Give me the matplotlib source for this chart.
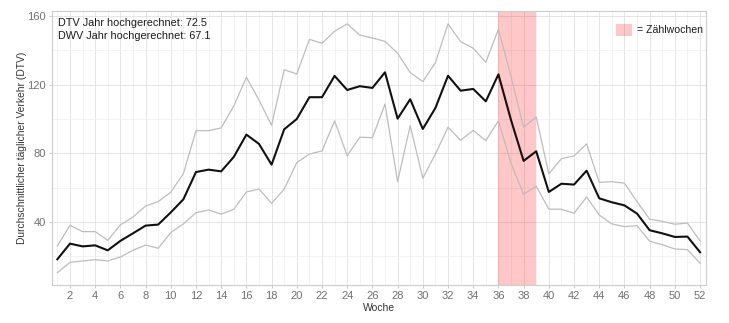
import matplotlib
matplotlib.use("Agg")
import matplotlib.pyplot as plt
from matplotlib.patches import Patch
from matplotlib.ticker import MultipleLocator

plt.rcParams['font.family'] = ['Liberation Sans', 'DejaVu Sans']

weeks = list(range(1, 53))

dtv_mean = [18.3, 27.4, 25.8, 26.4, 23.5, 29.0, 33.4, 37.9, 38.5, 45.6,
            53.2, 69.1, 70.5, 69.5, 77.9, 90.9, 85.5, 73.4, 94.0, 100.0,
            112.7, 112.7, 125.1, 116.9, 119.1, 118.1, 127.2, 100.2, 111.5, 94.2,
            106.4, 125.2, 116.5, 117.5, 110.3, 126.0, 99.4, 75.6, 81.2, 57.5,
            62.3, 61.8, 69.9, 53.8, 51.5, 49.7, 44.9, 35.2, 33.4, 31.3,
            31.5, 22.4]

dtv_upper = [26.0, 38.1, 34.4, 34.4, 29.3, 38.3, 42.9, 49.3, 51.9, 57.3,
             68.2, 93.2, 93.2, 94.8, 107.6, 124.3, 111.1, 96.3, 128.7, 126.2,
             146.4, 144.1, 151.1, 155.4, 148.9, 147.2, 145.2, 138.3, 127.0, 121.8,
             132.8, 155.4, 145.1, 141.2, 133.0, 152.3, 124.7, 95.2, 101.2, 68.0,
             76.9, 78.5, 85.5, 63.1, 63.5, 62.6, 51.9, 41.6, 40.4, 38.7,
             39.4, 29.0]

dtv_lower = [10.5, 16.5, 17.3, 18.1, 17.3, 19.6, 23.5, 26.6, 24.7, 33.8,
             38.9, 45.4, 47.0, 44.6, 47.4, 57.5, 59.2, 50.9, 59.1, 74.6,
             79.6, 81.4, 98.9, 78.6, 89.4, 89.1, 108.7, 63.5, 96.1, 65.5,
             79.6, 95.2, 87.6, 93.4, 87.4, 99.0, 74.2, 56.2, 60.8, 47.5,
             47.4, 45.1, 54.6, 44.1, 38.9, 37.3, 37.9, 28.8, 26.8, 24.3,
             23.9, 16.0]

count_weeks = (36, 39)
info_lines = ["DTV Jahr hochgerechnet: 72.5", "DWV Jahr hochgerechnet: 67.1"]
x_ticks = list(range(2, 53, 2))
y_ticks = [40, 80, 120, 160]

fig = plt.figure(figsize=(7.29, 3.23), dpi=100)
ax = fig.add_axes([0.0709, 0.1176, 0.9684 - 0.0709, 0.9659 - 0.1176])

ax.set_xlim(0.55, 52.47)
ax.set_ylim(3.3, 162.9)

ax.set_xticks(x_ticks)
ax.xaxis.set_minor_locator(MultipleLocator(1))
ax.set_yticks(y_ticks)
ax.yaxis.set_minor_locator(MultipleLocator(20))

ax.grid(which='major', color='#E0E0E0', linewidth=0.6, zorder=0)
ax.grid(which='minor', color='#EEEEEE', linewidth=0.5, zorder=0)
ax.set_axisbelow(True)

for s in ax.spines.values():
    s.set_color('#CCCCCC')
    s.set_linewidth(0.8)

ax.tick_params(which='major', length=2.5, width=0.5, color='#B3B3B3',
               labelsize=8, labelcolor='#707070', pad=1.5)
ax.tick_params(which='minor', length=0)

ax.axvspan(count_weeks[0], count_weeks[1], color='#FF0000', alpha=0.22,
           linewidth=0, zorder=1)

ax.plot(weeks, dtv_upper, color='#BDBDBD', linewidth=0.9, zorder=2)
ax.plot(weeks, dtv_lower, color='#BDBDBD', linewidth=0.9, zorder=2)
ax.plot(weeks, dtv_mean, color='#111111', linewidth=1.5, zorder=3)

ax.text(0.0095, 0.975, "\n".join(info_lines), transform=ax.transAxes,
        ha='left', va='top', fontsize=7.8, color='#1A1A1A', linespacing=1.4)

ax.set_xlabel("Woche", fontsize=7.5, color='#333333', labelpad=1.5)
ax.set_ylabel("Durchschnittlicher täglicher Verkehr (DTV)", fontsize=7.4,
              color='#333333', labelpad=0.5)

leg = ax.legend(handles=[Patch(facecolor='#FF0000', alpha=0.22, edgecolor='none',
                               label='= Zählwochen')],
                loc='upper right', frameon=False, fontsize=7.6,
                handlelength=1.5, handleheight=1.4, handletextpad=0.4,
                borderaxespad=0.0, borderpad=0.2,
                bbox_to_anchor=(0.998, 0.962))
for t in leg.get_texts():
    t.set_color('#1A1A1A')

fig.savefig("out.png", dpi=100, facecolor='white')
